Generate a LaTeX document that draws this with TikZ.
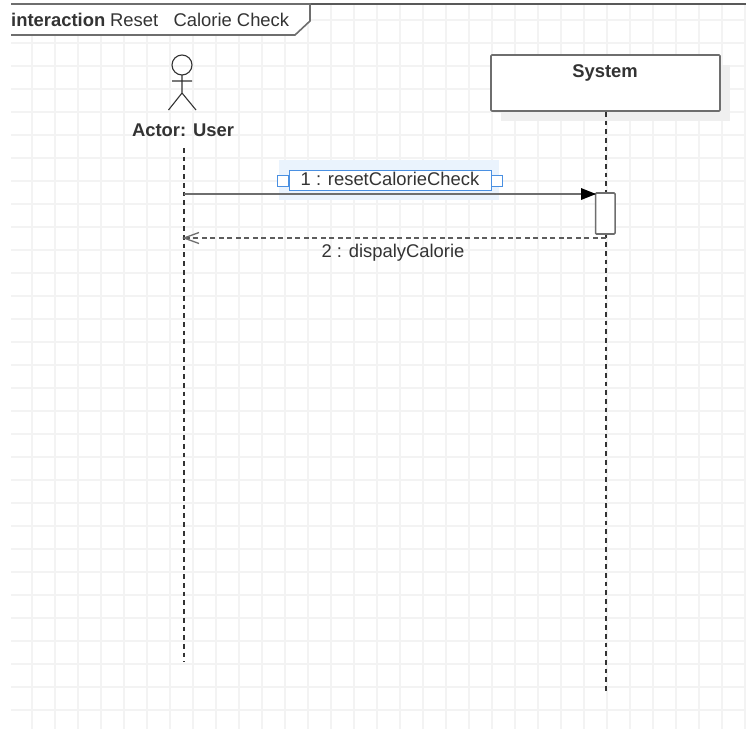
\documentclass[tikz,border=0pt]{standalone}
\usepackage{fontspec}
\setmainfont{Liberation Sans}
\usetikzlibrary{arrows.meta}
\definecolor{gridc}{HTML}{F3F3F3}
\definecolor{linec}{HTML}{6E6E6E}
\definecolor{inkc}{HTML}{333333}
\definecolor{selc}{HTML}{4A90E2}
\definecolor{glowc}{HTML}{EAF3FD}
\definecolor{shadowc}{HTML}{EFEFEF}
\tikzset{
  gridline/.style={draw=gridc,line width=1.1pt},
  stroke/.style={draw=linec,line width=1.6pt},
  actorline/.style={draw=inkc,line width=1.1pt},
  lifeline/.style={draw=black!80,line width=1.1pt,dash pattern=on 4.7pt off 4pt},
  handle/.style={draw=selc,fill=white,line width=1pt,minimum width=11pt,minimum height=11pt,inner sep=0pt},
  msg/.style={text=inkc,font=\fontsize{18.4}{21}\selectfont,inner sep=0pt},
  boldmsg/.style={text=inkc,font=\fontsize{18.4}{21}\selectfont\bfseries,inner sep=0pt}
}
\begin{document}
\begin{tikzpicture}[x=1pt,y=-1pt]
\useasboundingbox (0,0) rectangle (746,729);
\fill[white] (0,0) rectangle (746,729);
% grid
\foreach \gx in {32,55,...,745} \draw[gridline] (\gx,4) -- (\gx,729);
\foreach \gy in {20,43,...,728} \draw[gridline] (11,\gy) -- (746,\gy);
% frame
\coordinate (topL) at (11,4);
\coordinate (topR) at (746,4);
\draw[draw=black!65,line width=1.6pt] (topL) -- (topR);
\fill[white] (0,0) rectangle (11,729);
\draw[stroke,fill=white] (11,4) -- (310,4) -- (310,21) -- (295,35) -- (11,35);
\node[boldmsg,anchor=base west] (framekw) at (11,26) {interaction};
\node[msg,anchor=base west] (frametitle) at (110,26) {Reset\ \ \ Calorie Check};
% actor
\draw[actorline] (182,65) circle (10);
\coordinate (neck) at (182,75);
\coordinate (hip) at (182,93);
\coordinate (armL) at (172,81);
\coordinate (armR) at (192,81);
\coordinate (legL) at (168.5,110);
\coordinate (legR) at (196,110);
\draw[actorline] (neck) -- (hip) (armL) -- (armR) (legL) -- (hip) -- (legR);
\node[boldmsg] (actor) at (183,130) {Actor: User};
% system
\fill[shadowc] (501,65) rectangle (730,121);
\node[draw=linec,line width=1.6pt,fill=white,rounded corners=1pt,minimum width=229pt,minimum height=56pt,inner sep=0pt] (sys) at (605.5,83) {};
\node[boldmsg] (systext) at (605,73) {System};
% lifelines
\coordinate (ua) at (184,148);
\coordinate (ub) at (184,662);
\coordinate (sb) at (606,693);
\draw[lifeline] (ua) -- (ub);
\draw[lifeline] (sys.south -| sb) -- (sb);
% activation
\node[draw=linec,line width=1.6pt,fill=white,rounded corners=1pt,minimum width=19.5pt,minimum height=41pt,inner sep=0pt] (act) at (605.3,213.5) {};
% selection glow
\fill[glowc] (279,160) rectangle (499,200);
% message 1
\coordinate (m1a) at (184,194);
\draw[stroke] (m1a) -- (act.west |- m1a);
\fill[black] (596,194) -- (581,188) -- (581,200) -- cycle;
% message 2
\coordinate (m2a) at (606,238);
\coordinate (m2b) at (184,238);
\draw[draw=linec!85!black,line width=1.6pt,dash pattern=on 5pt off 3.5pt] (m2a) -- (m2b);
\draw[draw=linec,line width=1.3pt] (199,232.5) -- (m2b) -- (199,243.5);
\node[msg] (l2) at (393,253) {2 : dispalyCalorie};
% selected label
\node[handle] (hl) at (283,180.5) {};
\node[handle] (hr) at (496.5,180.5) {};
\node[draw=selc,line width=1pt,fill=white,minimum width=202pt,minimum height=20pt,inner sep=0pt] (l1) at (390,180) {};
\node[msg] (l1t) at (390,179) {1 : resetCalorieCheck};
\end{tikzpicture}
\end{document}
